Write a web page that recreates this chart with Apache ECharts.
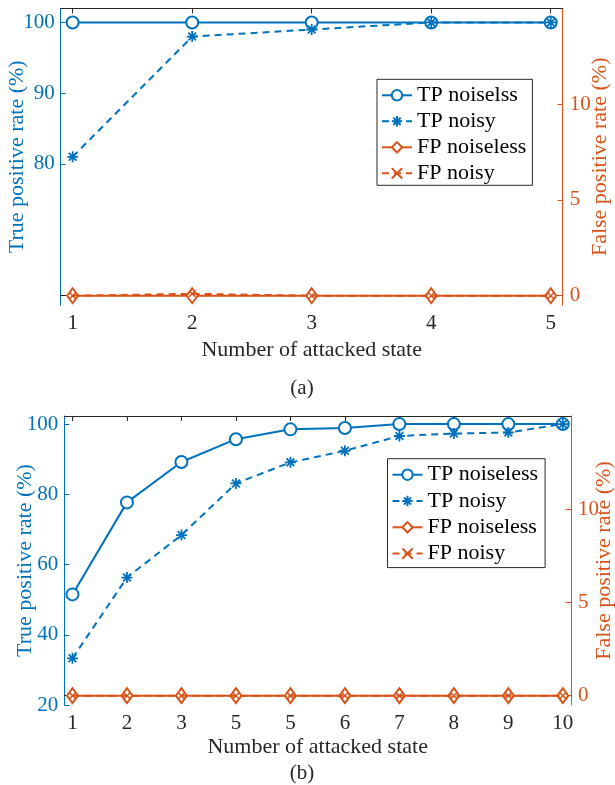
<!DOCTYPE html>
<html>
<head>
<meta charset="utf-8">
<script src="https://cdn.jsdelivr.net/npm/echarts@6/dist/echarts.min.js"></script>
<style>
html,body{margin:0;padding:0;background:#fff;}
#chart{width:615px;height:785px;}
</style>
</head>
<body>
<div id="chart"></div>
<script>
// ---- Data (a) ----
const xA = [1, 2, 3, 4, 5];
const xTicksA = ['1', '2', '3', '4', '5'];
const tpNoiselessA = [100, 100, 100, 100, 100];
const tpNoisyA = [81, 98, 99, 100, 100];
const fpNoiselessA = [0, 0, 0, 0, 0];
const fpNoisyA = [0, 0.1, 0, 0, 0];
const yLeftTicksA = [80, 90, 100];
const yRightTicksA = [0, 5, 10];
const legendA = ['TP noiselss', 'TP noisy', 'FP noiseless', 'FP noisy'];

// ---- Data (b) ----
const xB = [1, 2, 3, 4, 5, 6, 7, 8, 9, 10];
const xTicksB = ['1', '2', '3', '5', '5', '6', '7', '8', '9', '10'];
const tpNoiselessB = [51.5, 77.7, 89.2, 95.7, 98.5, 98.9, 100, 100, 100, 100];
const tpNoisyB = [33.3, 56.3, 68.4, 83.1, 89.1, 92.4, 96.6, 97.3, 97.6, 100];
const fpNoiselessB = [0, 0, 0, 0, 0, 0, 0, 0, 0, 0];
const fpNoisyB = [0, 0, 0, 0, 0, 0, 0, 0, 0, 0];
const yLeftTicksB = [20, 40, 60, 80, 100];
const yRightTicksB = [0, 5, 10];
const legendB = ['TP noiseless', 'TP noisy', 'FP noiseless', 'FP noisy'];

const BLUE = '#0072BD', ORANGE = '#D95319', DARK = '#262626';
const FONT = '"Liberation Serif", "Times New Roman", serif';
const STAR = 'path://M0,-10L0,10M-10,0L10,0M-7,-7L7,7M-7,7L7,-7';
const CROSS = 'path://M-10,-10L10,10M-10,10L10,-10';

const pairs = (xs, ys) => xs.map((x, i) => [x, ys[i]]);

function xAxes(gi, min, max, ticks, labels, nameGap) {
  return [{
    type: 'value', gridIndex: gi, position: 'bottom', min: min, max: max,
    name: 'Number of attacked state', nameLocation: 'middle', nameGap: nameGap, nameMoveOverlap: false,
    nameTextStyle: {fontFamily: FONT, fontSize: 22, color: DARK},
    axisLine: {show: true, lineStyle: {color: DARK, width: 1}},
    axisTick: {show: true, inside: true, length: 5, customValues: ticks, lineStyle: {color: DARK}},
    axisLabel: {show: true, customValues: ticks, margin: 8, color: DARK, fontFamily: FONT, fontSize: 21,
      formatter: v => labels[ticks.indexOf(v)]},
    splitLine: {show: false}
  }, {
    type: 'value', gridIndex: gi, position: 'top', min: min, max: max,
    axisLine: {show: true, lineStyle: {color: DARK, width: 1}},
    axisTick: {show: true, inside: true, length: 5, customValues: ticks, lineStyle: {color: DARK}},
    axisLabel: {show: false},
    splitLine: {show: false}
  }];
}

function yAxes(gi, lmin, lmax, lticks, lgap, rticks, rgap) {
  return [{
    type: 'value', gridIndex: gi, position: 'left', min: lmin, max: lmax,
    name: 'True positive rate (%)', nameLocation: 'middle', nameGap: lgap, nameRotate: 90, nameMoveOverlap: false,
    nameTextStyle: {fontFamily: FONT, fontSize: 22, color: BLUE},
    axisLine: {show: true, lineStyle: {color: BLUE, width: 1}},
    axisTick: {show: true, inside: true, length: 5, customValues: lticks, lineStyle: {color: BLUE}},
    axisLabel: {show: true, customValues: lticks, margin: 6, color: BLUE, fontFamily: FONT, fontSize: 21},
    splitLine: {show: false}
  }, {
    type: 'value', gridIndex: gi, position: 'right', min: -0.5, max: 15,
    name: 'False positive rate (%)', nameLocation: 'middle', nameGap: rgap, nameRotate: 90, nameMoveOverlap: false,
    nameTextStyle: {fontFamily: FONT, fontSize: 22, color: ORANGE},
    axisLine: {show: true, lineStyle: {color: ORANGE, width: 1}},
    axisTick: {show: true, inside: true, length: 5, customValues: rticks, lineStyle: {color: ORANGE}},
    axisLabel: {show: true, customValues: rticks, margin: 7, color: ORANGE, fontFamily: FONT, fontSize: 21},
    splitLine: {show: false}
  }];
}

function seriesSet(gi, xs, names, tp0, tp1, fp0, fp1) {
  const xi = gi * 2, yl = gi * 2, yr = gi * 2 + 1;
  return [{
    name: names[0], type: 'line', xAxisIndex: xi, yAxisIndex: yl, data: pairs(xs, tp0),
    symbol: 'emptyCircle', symbolSize: 12,
    lineStyle: {color: BLUE, width: 2}, itemStyle: {color: BLUE, borderColor: BLUE, borderWidth: 2},
    animation: false, z: 3
  }, {
    name: names[1], type: 'line', xAxisIndex: xi, yAxisIndex: yl, data: pairs(xs, tp1),
    symbol: STAR, symbolSize: 11,
    lineStyle: {color: BLUE, width: 2, type: [7, 5]}, itemStyle: {color: 'none', borderColor: BLUE, borderWidth: 1.8},
    animation: false, z: 4
  }, {
    name: names[2], type: 'line', xAxisIndex: xi, yAxisIndex: yr, data: pairs(xs, fp0),
    symbol: 'emptyDiamond', symbolSize: [11, 15],
    lineStyle: {color: ORANGE, width: 2}, itemStyle: {color: ORANGE, borderColor: ORANGE, borderWidth: 2},
    animation: false, z: 3
  }, {
    name: names[3], type: 'line', xAxisIndex: xi, yAxisIndex: yr, data: pairs(xs, fp1),
    symbol: CROSS, symbolSize: 6,
    lineStyle: {color: ORANGE, width: 2, type: [7, 5]}, itemStyle: {color: 'none', borderColor: ORANGE, borderWidth: 1.5},
    animation: false, z: 4
  }];
}

function legendBox(names, left, top, gap, pad) {
  return {
    data: names, orient: 'vertical', left: left, top: top, itemGap: gap, padding: pad,
    itemWidth: 30, itemHeight: 13, backgroundColor: '#fff', borderColor: DARK, borderWidth: 1,
    selectedMode: false,
    textStyle: {fontFamily: FONT, fontSize: 22, color: '#000', lineHeight: 22}
  };
}

const chart = echarts.init(document.getElementById('chart'), null, {renderer: 'canvas'});
chart.setOption({
  backgroundColor: '#fff',
  animation: false,
  grid: [
    {left: 60.7, top: 8.3, width: 502, height: 297, containLabel: false, outerBoundsMode: 'none'},
    {left: 64.3, top: 416, width: 506.7, height: 289, containLabel: false, outerBoundsMode: 'none'}
  ],
  xAxis: [].concat(
    xAxes(0, 0.9, 5.1, xA, xTicksA, 34),
    xAxes(1, 0.85, 10.15, xB, xTicksB, 31)
  ),
  yAxis: [].concat(
    yAxes(0, 60, 102, yLeftTicksA, 32, yRightTicksA, 27),
    yAxes(1, 20, 102.3, yLeftTicksB, 28, yRightTicksB, 22)
  ),
  legend: [
    legendBox(legendA, 377, 79.3, 4, [5, 6, 1, 4]),
    legendBox(legendB, 387.5, 458.7, 4.3, [5, 7, 3, 4])
  ],
  series: [].concat(
    seriesSet(0, xA, legendA, tpNoiselessA, tpNoisyA, fpNoiselessA, fpNoisyA),
    seriesSet(1, xB, legendB, tpNoiselessB, tpNoisyB, fpNoiselessB, fpNoisyB)
  ),
  graphic: [
    {type: 'text', x: 302, y: 388, style: {text: '(a)', fontFamily: FONT, fontSize: 21, fill: DARK, align: 'center', verticalAlign: 'middle'}},
    {type: 'text', x: 302, y: 773, style: {text: '(b)', fontFamily: FONT, fontSize: 21, fill: DARK, align: 'center', verticalAlign: 'middle'}}
  ]
});
</script>
</body>
</html>
